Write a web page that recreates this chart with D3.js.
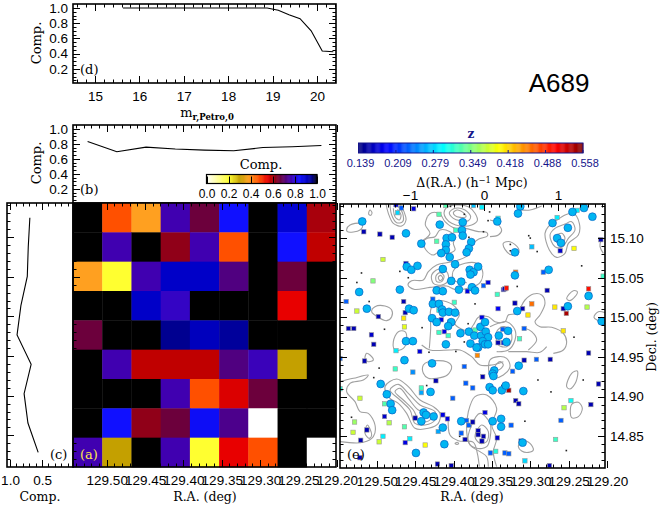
<!DOCTYPE html>
<html><head><meta charset="utf-8">
<script src="https://cdn.jsdelivr.net/npm/d3@7"></script>
<style>html,body{margin:0;padding:0;background:#fff}svg{display:block}</style>
</head><body><svg id="c" width="664" height="506"></svg>
<script>
// ---------- data ----------
const magBins=[15.63,15.88,16.13,16.38,16.63,16.88,17.13,17.38,17.63,17.88,18.13,18.38,18.63,18.88,19.13,19.37,19.62,19.87,20.12,20.37];
const magComp=[1,1,1,1,1,1,1,1,1,1,1,1,1,1,.97,.91,.86,.70,.435,.425];
const raComp=[.832,.694,.756,.73,.716,.707,.75,.76,.778];
const decComp=[.69,.715,.73,.83,.89,.67,.78,.72,.56];
const compTicks=[0,.2,.4,.6,.8,1];
const raTicks=[129.5,129.45,129.4,129.35,129.3,129.25,129.2];
const decTicks=[15.1,15.05,15,14.95,14.9,14.85];
const zTicks=["0.139","0.209","0.279","0.349","0.418","0.488","0.558"];
// completeness grid, rows north to south
const compGrid=[
[1,.47,.38,.76,.66,.84,1,.89,.60],
[1,.76,1,.62,.76,.47,1,.84,.58],
[.38,.2,.76,.9,.9,.72,1,.66,1],
[1,1,.9,.78,1,1,1,.55,1],
[.66,1,1,.95,.91,.94,1,1,1],
[1,.76,.58,.58,.58,.72,.77,.3,1],
[1,1,1,.76,.47,.56,.66,1,1],
[1,.84,.62,.66,.85,.73,0,1,1],
[.76,.3,1,.76,.2,.55,.47,1,0]];
const compStops=[0,.2,.3,.38,.47,.55,.58,.62,.66,.72,.76,.84,.9,.95,1];
const compColors=["#ffffff","#ffff30","#c4a000","#ffa020","#ff5000","#e80000","#c00000","#900018","#6c003c","#500080","#4000b0","#1010ff","#0000c8","#000090","#000000"];
// member galaxies [ra,dec]
const members=[[129.519,15.121],[129.418,15.117],[129.388,15.120],[129.389,15.110],[129.388,15.103],[129.462,15.106],[129.409,15.100],[129.402,15.101],[129.442,15.093],[129.410,15.092],[129.377,15.095],[129.380,15.087],[129.383,15.082],[129.410,15.085],[129.416,15.081],[129.405,15.076],[129.398,15.067],[129.461,15.064],[129.455,15.060],[129.447,15.065],[129.414,15.061],[129.379,15.060],[129.374,15.057],[129.378,15.054],[129.368,15.064],[129.403,15.046],[129.390,15.045],[129.523,15.032],[129.470,15.035],[129.422,15.034],[129.414,15.033],[129.393,15.035],[129.376,15.038],[129.372,15.034],[129.427,15.017],[129.419,15.017],[129.415,15.010],[129.414,15.006],[129.458,15.011],[129.452,15.009],[129.513,15.011],[129.406,15.007],[129.398,15.006],[129.428,14.999],[129.422,14.994],[129.403,14.994],[129.407,14.989],[129.391,14.980],[129.380,14.982],[129.373,14.977],[129.365,14.988],[129.359,14.994],[129.364,14.977],[129.358,14.982],[129.355,14.975],[129.362,14.970],[129.359,14.966],[129.355,14.966],[129.378,14.967],[129.410,14.966],[129.462,14.970],[129.453,14.970],[129.368,14.962],
[129.313,15.140],[129.316,15.131],[129.343,15.121],[129.245,15.133],[129.230,15.138],[129.219,15.127],[129.271,15.119],[129.251,15.113],[129.265,15.100],[129.260,15.094],[129.320,15.082],[129.276,15.060],[129.320,15.053],[129.224,15.027],[129.251,15.014],[129.317,15.008],[129.341,14.977],[129.329,14.983],[129.331,14.969],[129.207,14.995],
[129.464,14.946],[129.428,14.942],[129.495,14.916],[129.487,14.903],[129.482,14.891],[129.480,14.883],[129.430,14.906],[129.439,14.880],[129.436,14.877],[129.442,14.869],[129.426,14.875],[129.414,14.861],[129.412,14.840],[129.449,14.829],[129.390,14.869],[129.353,14.912],[129.349,14.908],[129.337,14.908],[129.347,14.933],[129.349,14.929],[129.348,14.926],[129.349,14.869],[129.338,14.872],[129.338,14.862],[129.370,14.962],[129.315,14.939],[129.332,14.914],[129.309,14.907],[129.310,14.842]];
// foreground/background galaxies with redshift [ra,dec,z]
const others=[[129.475,15.142,.18],[129.468,15.138,.23],[129.452,15.137,.18],[129.410,15.141,.33],[129.374,15.141,.27],[129.363,15.139,.29],[129.473,15.132,.28],[129.419,15.130,.33],[129.517,15.108,.16],[129.496,15.105,.16],[129.480,15.101,.16],[129.397,15.110,.32],[129.422,15.096,.33],[129.492,15.073,.38],[129.462,15.068,.17],[129.505,15.046,.35],[129.382,15.033,.18],[129.355,15.044,.18],[129.361,15.040,.23],[129.335,15.035,.18],[129.343,15.029,.32],[129.540,15.020,.23],[129.427,15.023,.23],[129.465,15.020,.16],[129.399,15.019,.32],[129.419,15.009,.30],[129.526,15.008,.38],[129.463,15.006,.16],[129.498,15.001,.16],[129.465,14.999,.41],[129.537,14.986,.16],[129.530,14.986,.16],[129.464,14.988,.39],[129.507,14.978,.17],[129.504,14.966,.16],[129.416,14.997,.18],[129.405,14.994,.23],[129.412,14.982,.18],[129.419,14.981,.32],[129.407,14.977,.32],[129.372,14.984,.33],[129.363,15.000,.18],[129.336,14.985,.23],[129.357,14.973,.16],[129.342,14.968,.16],[129.335,14.968,.18],
[129.342,15.125,.29],[129.239,15.135,.29],[129.265,15.126,.29],[129.298,15.089,.27],[129.261,15.084,.17],[129.243,15.087,.40],[129.208,15.098,.16],[129.205,15.052,.32],[129.283,15.057,.23],[129.319,15.057,.46],[129.278,15.034,.16],[129.333,15.036,.16],[129.331,15.037,.50],[129.224,15.036,.50],[129.298,15.017,.46],[129.320,15.018,.16],[129.310,15.011,.16],[129.268,15.013,.41],[129.257,15.011,.16],[129.253,15.005,.54],[129.226,15.013,.37],[129.303,15.003,.41],[129.342,15.011,.19],[129.308,14.986,.23],[129.257,14.983,.41],[129.314,14.973,.32],
[129.475,14.958,.29],[129.444,14.957,.18],[129.516,14.945,.16],[129.453,14.931,.25],[129.423,14.920,.16],[129.476,14.935,.32],[129.386,14.938,.23],[129.369,14.952,.45],[129.362,14.925,.16],[129.384,14.917,.23],[129.375,14.911,.23],[129.401,14.898,.23],[129.442,14.911,.32],[129.442,14.905,.26],[129.490,14.891,.33],[129.522,14.898,.38],[129.490,14.875,.17],[129.529,14.868,.36],[129.531,14.855,.38],[129.484,14.867,.37],[129.450,14.873,.16],[129.464,14.862,.33],[129.492,14.850,.29],[129.497,14.843,.38],[129.513,14.858,.16],[129.521,14.845,.16],[129.457,14.847,.29],[129.463,14.842,.18],[129.437,14.839,.40],[129.414,14.877,.18],[129.408,14.872,.18],[129.420,14.856,.26],[129.383,14.870,.23],[129.380,14.864,.23],[129.375,14.868,.16],[129.390,14.854,.23],[129.385,14.846,.16],[129.368,14.857,.16],[129.368,14.852,.16],[129.361,14.850,.16],[129.363,14.844,.16],[129.359,14.880,.18],[129.352,14.829,.23],[129.345,14.831,.31],[129.421,14.815,.16],[129.403,14.813,.16],[129.522,14.823,.16],[129.548,14.948,.23],[129.548,14.910,.31],
[129.308,14.946,.16],[129.292,14.947,.23],[129.274,14.947,.16],[129.224,14.955,.16],[129.323,14.932,.23],[129.211,14.916,.16],[129.328,14.908,.54],[129.319,14.895,.16],[129.315,14.891,.16],[129.221,14.890,.16],[129.247,14.895,.30],[129.256,14.886,.37],[129.260,14.870,.23],[129.325,14.864,.23],[129.343,14.848,.17],[129.267,14.846,.32],[129.312,14.844,.17],[129.333,14.829,.23],[129.328,14.828,.23],[129.307,14.819,.28],[129.275,14.813,.16]];
// galaxies without redshift [ra,dec]
const faint=[[129.520,15.056],[129.526,15.044],[129.470,15.058],[129.459,15.050],[129.510,15.020],[129.490,14.985],[129.441,14.987],[129.386,15.130],[129.353,15.133],[129.355,15.122],[129.361,15.108],[129.380,15.101],[129.372,15.017],[129.404,15.140],[129.386,14.969],[129.381,14.992],[129.302,15.103],[129.300,15.100],[129.326,15.092],[129.326,15.084],[129.322,15.084],[129.291,15.083],[129.233,15.065],[129.317,15.039],[129.221,15.030],[129.243,14.975],[129.497,14.936],[129.504,14.924],[129.435,14.914],[129.533,14.874],[129.397,14.957],[129.432,14.956],[129.392,14.850],[129.290,14.921],[129.231,14.921],[129.337,14.914],[129.273,14.906],[129.307,14.869],[129.253,14.832]];
// density contours, in units of the density-map grid (gx,gy)
const closedContours=[
[[20,88],[30,75],[60,70],[68,78],[60,90],[40,96],[22,95]],
[[90,30],[96,38],[92,46],[86,42]],
[[312,40],[320,22],[350,15],[385,20],[405,40],[412,62],[395,75],[360,78],[335,70],[318,55]],
[[328,38],[345,25],[375,30],[392,50],[385,62],[360,62],[340,55]],
[[340,38],[352,30],[370,38],[378,50],[360,52],[345,47]],
[[250,125],[262,115],[285,110],[300,90],[330,95],[345,110],[340,130],[345,150],[320,160],[305,150],[280,165],[258,150]],
[[275,225],[295,208],[320,215],[325,240],[305,255],[280,250]],
[[288,228],[300,218],[312,228],[305,245],[290,245]],
[[295,232],[302,226],[308,235],[300,242]],
[[95,335],[105,320],[135,318],[155,330],[155,350],[140,362],[115,352]],
[[160,425],[175,395],[195,395],[200,420],[190,445],[165,450]],
[[615,100],[625,80],[645,65],[675,45],[700,40],[718,70],[715,105],[685,130],[675,160],[650,172],[628,150]],
[[630,105],[645,85],[675,72],[695,65],[705,90],[685,115],[668,140],[645,140]],
[[645,110],[665,100],[675,115],[665,130],[648,125]],
[[490,130],[510,125],[535,145],[535,160],[515,165],[495,148]],
[[680,295],[700,272],[712,275],[705,290],[688,302]],
[[135,560],[170,537],[205,560],[240,600],[280,620],[300,640],[295,670],[265,685],[225,685],[200,640],[175,610],[150,595]],
[[150,570],[175,553],[205,580],[240,615],[285,635],[285,660],[255,675],[225,670],[210,630],[180,600]],
[[165,575],[180,565],[205,595],[235,630],[270,640],[270,660],[240,665],[220,630],[190,600]],
[[75,700],[82,675],[95,705],[88,715]],
[[250,495],[265,485],[320,485],[335,500],[322,525],[290,535],[265,535],[250,520]],
[[80,460],[90,465],[100,480],[85,485],[75,475]],
[[345,730],[352,727],[356,731],[350,733]],
[[385,725],[395,675],[420,640],[450,670],[450,715],[440,740],[410,745]],
[[405,710],[425,675],[445,695],[440,725],[420,730]],
[[450,480],[475,470],[500,475],[510,500],[490,525],[460,535],[450,530]],
[[465,500],[480,485],[490,495],[475,510]],
[[680,560],[695,520],[712,513],[708,545],[690,567]],
[[695,613],[715,607],[727,625],[715,650],[695,653]],
[[535,740],[545,720],[570,730],[580,750],[565,757],[545,753]],
[[470,395],[490,380],[510,390],[515,420],[500,440],[475,435]]];
const openContours=[
[[138,12],[145,40],[160,70],[185,78],[198,60],[192,35],[180,12]],
[[150,15],[155,45],[170,68],[188,65],[188,40],[175,20]],
[[160,25],[165,50],[178,60],[183,45],[172,28]],
[[262,50],[275,38],[300,42],[315,65],[345,85],[375,85],[415,95],[440,97],[442,108],[415,118],[395,135],[385,165],[355,180],[320,188],[290,195],[265,215],[250,240],[215,242],[204,255],[222,268],[270,262],[320,258],[345,268],[395,262],[420,248],[428,215],[410,190],[375,190],[345,205],[337,225],[345,243],[380,248]],
[[262,50],[256,75],[270,100],[250,120]],
[[268,445],[272,385],[272,330],[285,305],[320,305],[345,320],[358,345],[345,372],[385,392],[400,375],[415,352],[445,350],[465,365],[495,365],[505,345],[530,340],[555,300],[580,282],[605,285],[615,310],[600,345],[585,365],[600,380],[635,382],[670,400],[680,425],[670,450],[640,460]],
[[525,45],[532,32],[570,30],[605,18]],
[[450,60],[465,65],[485,90],[475,105],[450,110]],
[[450,380],[475,370],[500,365],[525,390],[525,420],[505,450],[470,455]],
[[555,385],[575,395],[590,420],[565,450]],
[[795,338],[775,335],[762,352],[775,362],[795,372]],
[[783,120],[780,140],[790,160]],
[[0,545],[40,535],[85,525],[70,540],[30,550],[20,575],[45,605],[60,635],[85,640],[105,675],[100,710],[70,727],[0,725]],
[[325,650],[330,705],[355,722],[400,727],[412,760],[418,800]],
[[445,800],[440,770],[420,755],[390,735],[380,695],[385,635],[405,590],[440,585],[470,625],[455,675],[470,715],[460,755],[470,800]],
[[245,435],[270,450],[330,450],[360,450],[395,470],[420,495],[455,495],[490,485]],
[[505,455],[560,455],[600,457],[620,440]]];

// ---------- helpers ----------
const svg=d3.select("#c");
const SANS="'Liberation Sans',Arial,sans-serif", SERIF="'DejaVu Serif',serif";
const seq=(a,b,s)=>{const r=[];const n=Math.round(Math.abs(b-a)/s);for(let i=0;i<=n;i++)r.push(+(a+(b-a)*i/n).toFixed(4));return r;};
const padBy={bottom:8,top:4,left:5,right:5};
const tickMarks=[];
function ticks(g,orient,scale,majors,minors,labels,fs,pad,offset){
  const gen={bottom:d3.axisBottom,top:d3.axisTop,left:d3.axisLeft,right:d3.axisRight}[orient];
  const a=gen(scale).tickValues(majors).tickSize(0).tickPadding(pad==null?padBy[orient]:pad).tickFormat(labels||(()=>""));
  const s=g.append("g").call(a);
  s.select(".domain").remove();
  s.selectAll("text").attr("font-family",SANS).attr("font-size",fs||13.5).attr("fill","#000");
  const m=/translate\(([-\d.]+),\s*([-\d.]+)\)/.exec(g.attr("transform"));
  const ox=+m[1],oy=+m[2];
  const add=(v,len)=>{const p=Math.round(scale(v))+.5;
    if(orient==="bottom"||orient==="top"){const d=orient==="bottom"?-1:1;tickMarks.push({x1:p,x2:p,y1:oy,y2:oy+d*len});}
    else{const d=orient==="left"?1:-1;tickMarks.push({x1:ox,x2:ox+d*len,y1:p,y2:p});}};
  minors.forEach(v=>add(v,3.5));
  majors.forEach(v=>add(v,7));
}
function box(x0,y0,x1,y1){svg.append("rect").attr("x",x0).attr("y",y0).attr("width",x1-x0).attr("height",y1-y0).attr("fill","none").attr("stroke","#000").attr("stroke-width",1.6);}
function T(x,y,s,o={}){const t=svg.append("text").attr("x",x).attr("y",y).attr("text-anchor",o.a||"middle").attr("font-family",o.f||SERIF).attr("font-size",o.s||13).attr("fill",o.c||"#000").text(s);
  if(o.r)t.attr("transform",`rotate(${o.r} ${x} ${y})`);if(o.w)t.attr("font-weight",o.w);return t;}
const at=(g,x,y)=>g.attr("transform",`translate(${x},${y})`);
const fmt1=d3.format(".1f"),fmt2=d3.format(".2f");

// ---------- scales ----------
const compColor=d3.scaleLinear().domain(compStops).range(compColors);
const zNorm=d3.scaleLinear().domain([.139,.558]).range([0,1]);
const jet=d3.scaleLinear().domain([0,.125,.375,.625,.875,1]).range(["#00007f","#0000ff","#00ffff","#ffff00","#ff0000","#7f0000"]);
const zColor=z=>jet(zNorm(z));
const mX=d3.scaleLinear().domain([14.505,20.43]).range([73,336]);
const dY=d3.scaleLinear().domain([1.052,.015]).range([4,83]);
const bY=d3.scaleLinear().domain([1.05,.013]).range([125,203]);
const aX=d3.scaleLinear().domain([129.544,129.201]).range([73,336]);
const aY=d3.scaleLinear().domain([15.143,14.81]).range([203,467]);
const cX=d3.scaleLinear().domain([1.047,.016]).range([7,73]);
const eX=d3.scaleLinear().domain([129.548,129.2026]).range([340,605]);
const eY=d3.scaleLinear().domain([15.143,14.81]).range([204,468]);
const mpcX=d3.scaleLinear().domain([-1.946,1.635]).range([340,605]);
const gridX=d3.scaleLinear().domain([0,795]).range([340,605]);
const gridY=d3.scaleLinear().domain([12,804]).range([204,468]);
const cols=d3.range(9),rows=d3.range(9);
const cellX=d3.scaleBand().domain(cols).range([73,336]);
const cellY=d3.scaleBand().domain(rows).range([203,467]);

// ---------- panel d ----------
svg.append("path").datum(magBins.map((m,i)=>[m,magComp[i]])).attr("fill","none").attr("stroke","#000").attr("stroke-width",1.1)
 .attr("d",d3.line().x(d=>mX(d[0])).y(d=>dY(d[1])));
const compMinor=seq(0.05,1.0,.05);
at(svg.append("g"),0,83).call(g=>ticks(g,"bottom",mX,[15,16,17,18,19,20],seq(14.6,20.4,.2),d=>d));
at(svg.append("g"),0,4).call(g=>ticks(g,"top",mX,[15,16,17,18,19,20],seq(14.6,20.4,.2)));
at(svg.append("g"),73,0).call(g=>ticks(g,"left",dY,compTicks.slice(1),compMinor,fmt1));
at(svg.append("g"),336,0).call(g=>ticks(g,"right",dY,compTicks.slice(1),compMinor));
box(73,4,336,83);
const ml=T(207,117,"",{s:13});
ml.append("tspan").text("m");
ml.append("tspan").attr("dy",3).attr("font-size",8.5).attr("font-weight","bold").text("r,Petro,0");
T(37,43,"Comp.",{r:-90,s:13}).attr("dominant-baseline","middle");
T(80,74,"(d)",{a:"start",s:13});
T(559,92,"A689",{f:SANS,s:26});

// ---------- panel b ----------
svg.append("path").datum(raComp).attr("fill","none").attr("stroke","#000").attr("stroke-width",1.1)
 .attr("d",d3.line().x((d,i)=>cellX(i)+cellX.bandwidth()/2).y(d=>bY(d)));
at(svg.append("g"),0,125).call(g=>ticks(g,"top",aX,raTicks,seq(129.54,129.21,.01)));
at(svg.append("g"),73,0).call(g=>ticks(g,"left",bY,compTicks.slice(1),compMinor,fmt1));
at(svg.append("g"),336,0).call(g=>ticks(g,"right",bY,compTicks.slice(1),compMinor));
box(73,125,336,203);
T(37,163,"Comp.",{r:-90,s:13}).attr("dominant-baseline","middle");
T(80,194,"(b)",{a:"start",s:13});
// completeness colour bar
const cbX=d3.scaleLinear().domain([0,1]).range([206.5,317]);
const cbSteps=d3.range(0,1,.005);
svg.append("g").selectAll("rect").data(cbSteps).join("rect").attr("x",d=>cbX(d)).attr("y",174.5).attr("width",1).attr("height",9).attr("fill",d=>compColor(d));
svg.append("rect").attr("x",206.5).attr("y",174.5).attr("width",110.5).attr("height",9).attr("fill","none").attr("stroke","#000").attr("stroke-width",1.2);
at(svg.append("g"),0,183.5).call(g=>ticks(g,"bottom",cbX,compTicks,[],fmt1,12,6));
T(261,169,"Comp.",{s:13});

// ---------- panel a ----------
const flat=[];rows.forEach(r=>cols.forEach(c=>flat.push({r,c,v:compGrid[r][c]})));
svg.append("g").selectAll("rect").data(flat).join("rect").attr("x",d=>cellX(d.c)).attr("y",d=>cellY(d.r))
 .attr("width",cellX.bandwidth()+.4).attr("height",cellY.bandwidth()+.4).attr("fill",d=>compColor(d.v));
const raMinor=seq(129.54,129.21,.01),decMinor=seq(15.14,14.82,.01);
at(svg.append("g"),0,467).call(g=>ticks(g,"bottom",aX,raTicks,raMinor,fmt2));
at(svg.append("g"),0,203).call(g=>ticks(g,"top",aX,raTicks,raMinor));
at(svg.append("g"),73,0).call(g=>ticks(g,"left",aY,decTicks,decMinor));
at(svg.append("g"),336,0).call(g=>ticks(g,"right",aY,decTicks,decMinor));
box(73,203,336,467);
T(205,501,"R.A. (deg)",{s:12.5});
T(80,459,"(a)",{a:"start",s:13,c:"#ffe84a"});

// ---------- panel c ----------
svg.append("path").datum(decComp).attr("fill","none").attr("stroke","#000").attr("stroke-width",1.1)
 .attr("d",d3.line().x(d=>cX(d)).y((d,i)=>cellY(i)+cellY.bandwidth()/2));
const cMinor=seq(1,.1,.1);
at(svg.append("g"),0,467).call(g=>ticks(g,"bottom",cX,[1,.5],cMinor,fmt1));
at(svg.append("g"),0,203).call(g=>ticks(g,"top",cX,[1,.5],cMinor));
at(svg.append("g"),7,0).call(g=>ticks(g,"left",aY,decTicks,decMinor));
box(7,203,73,467);
T(40,501,"Comp.",{s:12.5});
T(50,459,"(c)",{a:"start",s:13});

// ---------- panel e ----------
const gl=d3.line().x(d=>gridX(d[0])).y(d=>gridY(d[1]));
const clip=svg.append("clipPath").attr("id","ec").append("rect").attr("x",340).attr("y",204).attr("width",265).attr("height",264);
const eg=svg.append("g").attr("clip-path","url(#ec)");
eg.selectAll("path.cc").data(closedContours).join("path").attr("class","cc").attr("fill","none").attr("stroke","#a0a0a0").attr("stroke-width",1.1)
 .attr("d",d=>gl.curve(d3.curveCatmullRomClosed)(d));
eg.selectAll("path.oc").data(openContours).join("path").attr("class","oc").attr("fill","none").attr("stroke","#a0a0a0").attr("stroke-width",1.1)
 .attr("d",d=>gl.curve(d3.curveCatmullRom)(d));
eg.selectAll("rect.f").data(faint).join("rect").attr("class","f").attr("x",d=>eX(d[0])-.8).attr("y",d=>eY(d[1])-.8).attr("width",1.6).attr("height",1.6).attr("fill","#222");
eg.selectAll("rect.o").data(others).join("rect").attr("class","o").attr("x",d=>eX(d[0])-2.2).attr("y",d=>eY(d[1])-2.2).attr("width",4.4).attr("height",4.4)
 .attr("fill",d=>zColor(d[2])).attr("stroke","#999").attr("stroke-width",.6);
eg.selectAll("circle").data(members).join("circle").attr("cx",d=>eX(d[0])).attr("cy",d=>eY(d[1])).attr("r",3.9)
 .attr("fill","#00b6f2").attr("stroke","#0a63c4").attr("stroke-width",.7);
at(svg.append("g"),0,468).call(g=>ticks(g,"bottom",eX,raTicks,raMinor,fmt2));
at(svg.append("g"),340,0).call(g=>ticks(g,"left",eY,decTicks,decMinor));
at(svg.append("g"),605,0).call(g=>ticks(g,"right",eY,decTicks,decMinor,fmt2));
at(svg.append("g"),0,204).call(g=>ticks(g,"top",mpcX,[-1,0,1],seq(-1.9,1.6,.1),d=>d===-1?"\u22121":d));
box(340,204,605,468);
T(472,501,"R.A. (deg)",{s:12.5});
T(347,459,"(e)",{a:"start",s:13});
T(656,337,"Decl. (deg)",{r:-90,s:12.5});
const dl=T(472,187,"",{s:12.5});
dl.append("tspan").text("\u0394(R.A.)  (h");
dl.append("tspan").attr("dy",-4).attr("font-size",8.5).text("\u22121");
dl.append("tspan").attr("dy",4).text("  Mpc)");

// ---------- redshift colour bar ----------
const NAVY="#14148a";
const zbX=d3.scaleLinear().domain([0,6]).range([358.5,583]);
svg.append("g").selectAll("rect").data(d3.range(0,1,.004)).join("rect").attr("x",d=>358.5+d*224.5).attr("y",143).attr("width",1.2).attr("height",10).attr("fill",d=>jet(d));
svg.append("rect").attr("x",358.5).attr("y",143).attr("width",224.5).attr("height",10).attr("fill","none").attr("stroke",NAVY).attr("stroke-width",1);
svg.append("g").selectAll("line").data(d3.range(7)).join("line").attr("x1",d=>zbX(d)).attr("x2",d=>zbX(d)).attr("y1",153).attr("y2",150).attr("stroke",NAVY);
svg.append("g").selectAll("text").data(zTicks).join("text").attr("x",(d,i)=>zbX(i)+2).attr("y",167).attr("text-anchor","middle")
 .attr("font-family",SANS).attr("font-size",11).attr("fill",NAVY).text(d=>d);
T(471,138,"z",{s:12,c:NAVY,w:"bold"});

// ---------- tick marks, all derived from the scales ----------
svg.append("g").attr("class","tickmarks").selectAll("line").data(tickMarks).join("line")
 .attr("x1",d=>d.x1).attr("x2",d=>d.x2).attr("y1",d=>d.y1).attr("y2",d=>d.y2).attr("stroke","#000").attr("stroke-width",1);
</script></body></html>
